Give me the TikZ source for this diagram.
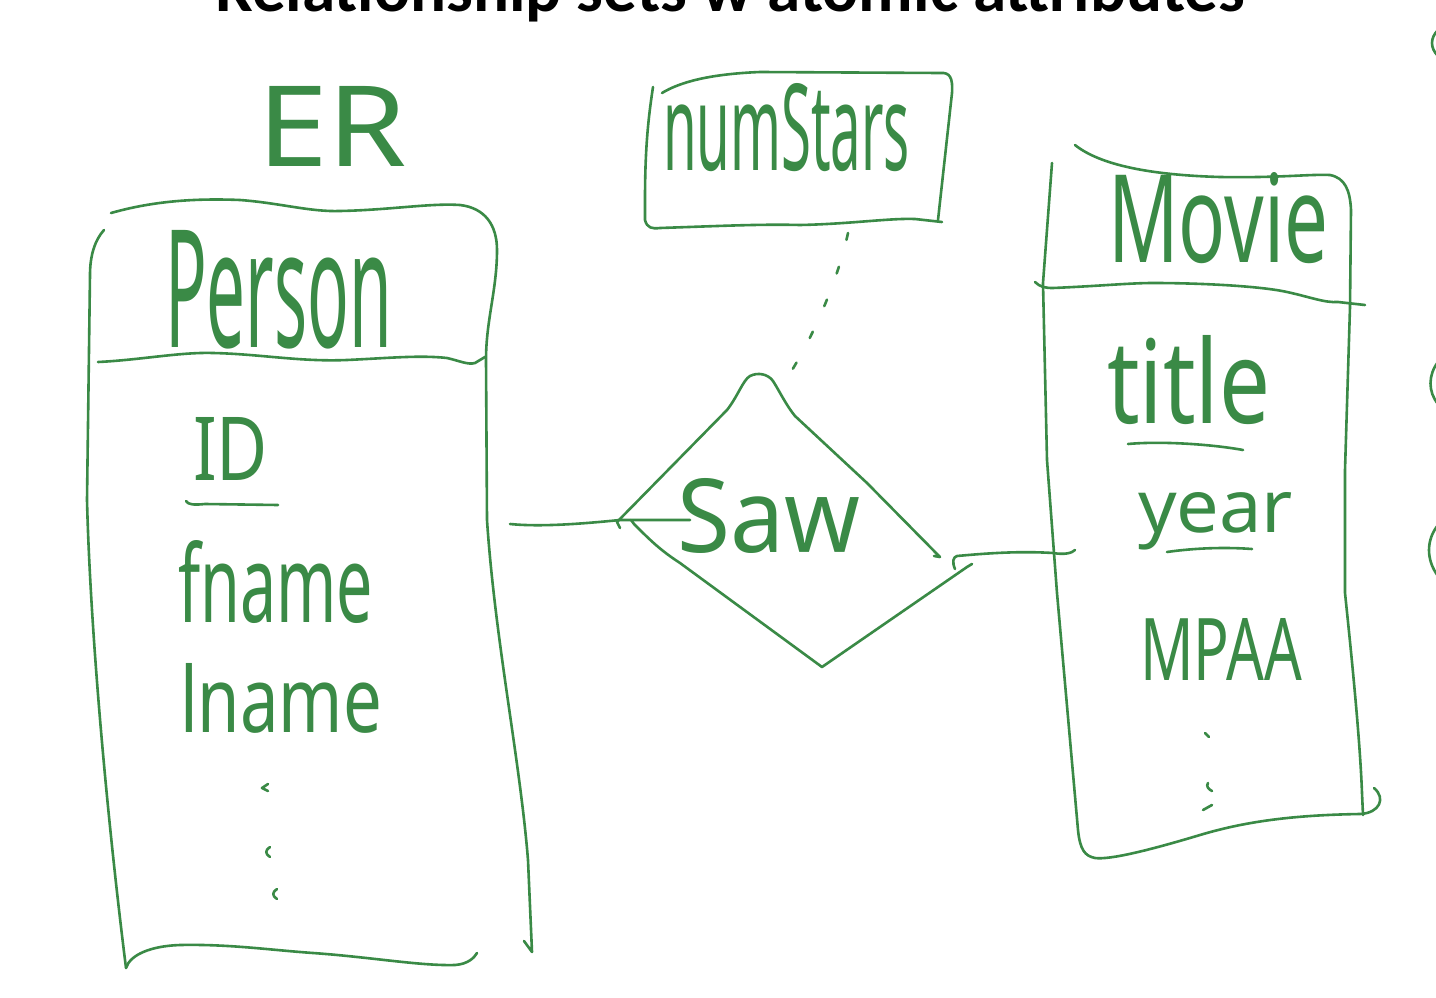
\documentclass[tikz,border=0pt]{standalone}
\usepackage{fontspec}
\usepackage{graphicx}
\setmainfont{Noto Sans}
\newfontfamily\headfont{Carlito}
\definecolor{ink}{RGB}{58,138,70}
\usetikzlibrary{calc}
\tikzset{
  pen/.style={draw=ink, line width=2.6pt, line cap=round, line join=round},
  lbl/.style={inner sep=0pt, outer sep=0pt, text=ink, anchor=base west},
  crescent/.pic={\draw[pen] (3,-5) .. controls (-2,-2) and (-2,2) .. (3,5);}
}
% \hw{width}{height above baseline}{text}
\newcommand\hw[3]{\resizebox{#1}{#2}{#3}}
\begin{document}
\begin{tikzpicture}[x=1pt,y=-1pt]
\useasboundingbox (0,0) rectangle (1436,998);
\fill[white] (0,0) rectangle (1436,998);

% heading, cut by the top edge
\node[inner sep=0pt, anchor=base west] (heading) at (215,12)
  {\resizebox{1030pt}{!}{\headfont\bfseries Relationship sets w atomic attributes}};

% ---------- labels ----------
\node[lbl] (er) at (257,166) {\hw{150pt}{80pt}{ER}};
\node[lbl] (person) at (165,347) {\hw{227pt}{117pt}{Person}};
\node[lbl] (id) at (193,480) {\hw{75pt}{63pt}{ID}};
\node[lbl] (fname) at (178,622) {\hw{195pt}{82pt}{fname}};
\node[lbl] (lname) at (180,732) {\hw{202pt}{69pt}{lname}};
\node[lbl] (numstars) at (663,170) {\hw{247pt}{87pt}{numStars}};
\node[lbl] (saw) at (677,552) {\hw{183pt}{74pt}{Saw}};
\node[lbl] (movie) at (1108,262) {\hw{220pt}{90pt}{Movie}};
\node[lbl] (title) at (1107,423) {\hw{163pt}{88pt}{title}};
\node[lbl] (year) at (1138,532) {\hw{155pt}{40pt}{year}};
\node[lbl] (mpaa) at (1140,680) {\hw{162pt}{62pt}{MPAA}};

% ---------- Person entity ----------
\draw[pen] (111,213) .. controls (150,202) and (190,198) .. (240,200)
  .. controls (280,203) and (310,212) .. (340,211)
  .. controls (390,210) and (430,203) .. (460,205)
  .. controls (485,208) and (497,225) .. (497,250)
  .. controls (497,290) and (486,320) .. (486,360)
  -- (487,520) .. controls (495,640) and (520,760) .. (528,860)
  -- (532,952) -- (524,941);
\draw[pen] (104,230) .. controls (95,240) and (90,255) .. (90,275)
  -- (87,500) .. controls (90,620) and (105,800) .. (126,968);
\draw[pen] (126,968) .. controls (130,955) and (150,946) .. (180,945)
  .. controls (230,944) and (270,950) .. (313,953)
  .. controls (370,957) and (420,966) .. (455,965)
  .. controls (468,964) and (474,958) .. (477,953);
\draw[pen] (98,362) .. controls (140,360) and (180,352) .. (213,353)
  .. controls (260,354) and (300,362) .. (347,360)
  .. controls (390,358) and (420,355) .. (447,358)
  .. controls (460,361) and (468,365) .. (475,363) -- (485,357);
% key underline
\draw[pen] (186,501) .. controls (188,505) and (195,505) .. (205,504) -- (278,505);
% more attributes
\draw[pen] (268,784) -- (262,788) -- (268,791);
\pic at (267,852) {crescent};
\pic at (274,894) {crescent};

% ---------- numStars attribute ----------
\draw[pen] (662,93) .. controls (680,82) and (710,74) .. (760,72)
  -- (940,73) .. controls (950,72) and (953,78) .. (952,93) -- (938,220);
\draw[pen] (653,87) .. controls (648,120) and (645,150) .. (645,200)
  -- (645,220) .. controls (647,228) and (652,229) .. (660,228)
  .. controls (720,226) and (760,224) .. (800,225)
  .. controls (850,224) and (890,218) .. (915,219) -- (942,222);

% ---------- Saw relationship ----------
\draw[pen] (620,528) -- (617,522) -- (727,410)
  .. controls (738,396) and (743,380) .. (750,376)
  .. controls (758,372) and (768,374) .. (773,381)
  .. controls (780,392) and (786,405) .. (795,416)
  -- (867,483) -- (940,557) -- (934,556);
\draw[pen] (631,520) -- (634,524) .. controls (650,540) and (660,550) .. (680,563)
  -- (822,667) -- (967,567) -- (972,564);

% ---------- Movie entity ----------
\draw[pen] (1075,145) .. controls (1100,165) and (1150,175) .. (1220,177)
  .. controls (1280,178) and (1310,174) .. (1330,175)
  .. controls (1345,178) and (1350,190) .. (1351,210)
  -- (1350,307) -- (1345,470) -- (1345,593)
  .. controls (1352,660) and (1360,740) .. (1362,793) -- (1363,815);
\draw[pen] (1374,788) .. controls (1386,798) and (1380,813) .. (1360,814)
  .. controls (1300,815) and (1250,820) .. (1200,835)
  .. controls (1150,850) and (1110,860) .. (1095,858)
  .. controls (1085,856) and (1080,850) .. (1078,830)
  -- (1057,593) -- (1047,460) -- (1043,283) -- (1052,163);
\draw[pen] (1035,282) .. controls (1040,287) and (1045,288) .. (1053,288)
  .. controls (1100,286) and (1130,283) .. (1153,283)
  .. controls (1200,283) and (1260,286) .. (1287,292)
  .. controls (1310,297) and (1325,303) .. (1338,302) -- (1365,305);
% key underlines
\draw[pen] (1128,444) .. controls (1160,441) and (1210,444) .. (1243,450);
\draw[pen] (1167,552) .. controls (1195,548) and (1225,547) .. (1252,549);
% more attributes
\draw[pen] (1205,733) -- (1209,737);
\draw[pen] (1208,783) .. controls (1206,786) and (1208,789) .. (1212,791);
\draw[pen] (1203,810) -- (1212,805);

% ---------- connectors ----------
\coordinate (personR) at (510,524);
\coordinate (sawL) at (690,520);
\coordinate (sawR) at (957,556);
\coordinate (movieL) at (1075,550);
\coordinate (starsB) at (848,233);
\coordinate (sawT) at (787,378);
\draw[pen] (personR) .. controls (540,527) and (580,524) .. (620,520) -- (sawL);
\draw[pen] (955,569) .. controls (952,562) and (953,557) .. (sawR)
  .. controls (990,553) and (1020,551) .. (1053,553)
  .. controls (1065,555) and (1072,553) .. (movieL);
\draw[pen, dash pattern=on 7pt off 28pt] (starsB) .. controls (838,280) and (812,340) .. (sawT);

% marks at the right margin
\draw[pen] (1438,30) .. controls (1430,38) and (1430,48) .. (1438,56);
\draw[pen] (1438,362) .. controls (1428,375) and (1428,392) .. (1438,404);
\draw[pen] (1438,525) .. controls (1426,540) and (1426,560) .. (1438,576);
\end{tikzpicture}
\end{document}
